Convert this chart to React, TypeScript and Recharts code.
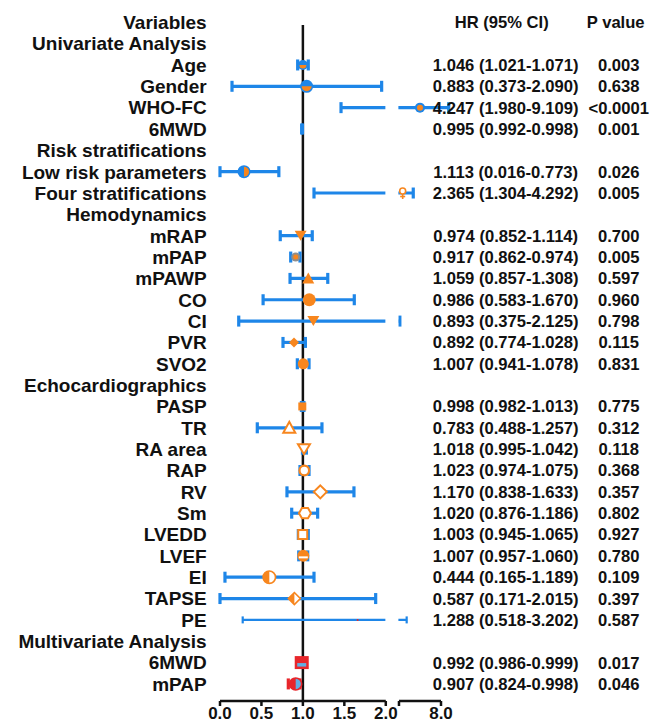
import {
  ScatterChart,
  Scatter,
  XAxis,
  YAxis,
  ErrorBar,
  ReferenceLine,
  ReferenceArea,
} from "recharts";

// one entry per row, top to bottom (headers included)
const variables = [
  "Variables", "Univariate Analysis", "Age", "Gender", "WHO-FC", "6MWD",
  "Risk stratifications", "Low risk parameters", "Four stratifications",
  "Hemodynamics", "mRAP", "mPAP", "mPAWP", "CO", "CI", "PVR", "SVO2",
  "Echocardiographics", "PASP", "TR", "RA area", "RAP", "RV", "Sm", "LVEDD",
  "LVEF", "EI", "TAPSE", "PE", "Multivariate Analysis", "6MWD", "mPAP",
];

const hrText = [
  "HR (95% CI)", "", "1.046 (1.021-1.071)", "0.883 (0.373-2.090)", "4.247 (1.980-9.109)",
  "0.995 (0.992-0.998)", "", "1.113 (0.016-0.773)", "2.365 (1.304-4.292)", "",
  "0.974 (0.852-1.114)", "0.917 (0.862-0.974)", "1.059 (0.857-1.308)", "0.986 (0.583-1.670)",
  "0.893 (0.375-2.125)", "0.892 (0.774-1.028)", "1.007 (0.941-1.078)", "",
  "0.998 (0.982-1.013)", "0.783 (0.488-1.257)", "1.018 (0.995-1.042)", "1.023 (0.974-1.075)",
  "1.170 (0.838-1.633)", "1.020 (0.876-1.186)", "1.003 (0.945-1.065)", "1.007 (0.957-1.060)",
  "0.444 (0.165-1.189)", "0.587 (0.171-2.015)", "1.288 (0.518-3.202)", "",
  "0.992 (0.986-0.999)", "0.907 (0.824-0.998)",
];

const pText = [
  "P value", "", "0.003", "0.638", "<0.0001", "0.001", "", "0.026", "0.005", "",
  "0.700", "0.005", "0.597", "0.960", "0.798", "0.115", "0.831", "",
  "0.775", "0.312", "0.118", "0.368", "0.357", "0.802", "0.927", "0.780",
  "0.109", "0.397", "0.587", "", "0.017", "0.046",
];

// plotted estimates (null = header row)
const hr = [
  null, null, 1.0, 1.045, 5.0, 0.99, null, 0.29, 2.53, null,
  0.973, 0.913, 1.065, 1.077, 1.126, 0.893, 1.005, null,
  0.993, 0.836, 1.013, 1.017, 1.21, 1.025, 0.998, 1.005,
  0.595, 0.897, 1.66, null, 0.986, 0.913,
];
const lo = [
  null, null, 0.937, 0.145, 1.46, 0.985, null, 0.0, 1.134, null,
  0.727, 0.853, 0.845, 0.52, 0.226, 0.76, 0.933, null,
  0.982, 0.45, 0.995, 0.965, 0.808, 0.865, 0.945, 0.95,
  0.06, 0.0, 0.274, null, 0.986, 0.824,
];
const hi = [
  null, null, 1.065, 1.95, 9.1, 0.995, null, 0.71, 4.04, null,
  1.113, 0.965, 1.3, 1.62, 2.125, 1.03, 1.074, null,
  1.013, 1.23, 1.042, 1.074, 1.616, 1.178, 1.065, 1.058,
  1.134, 1.878, 3.1, null, 0.999, 0.965,
];

const xTicks = [0, 0.5, 1, 1.5, 2, 8];
const multivariateRows = [30, 31];
const thinRows = [28];

// broken axis: 0-2 linear, then a short segment for 2-8
const SEG2_START = 2.159;
const SEG2_WIDTH = 0.507;
const toAxis = (v: number) => (v <= 2 ? v : SEG2_START + ((v - 2) / 6) * SEG2_WIDTH);
const AXIS_BOTTOM = 31.8;

const ORANGE = "#F7861E";
const BLUE = "#1E86E8";
const RED = "#E8262B";
const LIGHTBLUE = "#62AEE2";
const GREY = "#8E8E8E";
const FONT = "'Liberation Sans', Arial, Helvetica, sans-serif";

const rows = variables.map((_, i) => i);
const points = rows
  .filter((i) => hr[i] !== null)
  .map((i) => {
    const x = toAxis(hr[i] as number);
    return {
      row: i,
      x,
      err: [x - toAxis(lo[i] as number), toAxis(hi[i] as number) - x],
    };
  });
const mainPoints = points.filter((p) => !multivariateRows.includes(p.row) && !thinRows.includes(p.row));
const thinPoints = points.filter((p) => thinRows.includes(p.row));
const multiPoints = points.filter((p) => multivariateRows.includes(p.row));

const MARKER: Record<number, string> = {
  2: "halfBottomSmall", 3: "halfBottom", 4: "ring", 5: "none", 7: "halfRight", 8: "female",
  10: "triDown", 11: "greyDot", 12: "triUp", 13: "dot", 14: "triDown", 15: "diamond",
  16: "dotSmall", 18: "square", 19: "openTriUp", 20: "openTriDown", 21: "openCircle",
  22: "openDiamond", 23: "openHex", 24: "openSquare", 25: "bandCircle", 26: "halfLeftOpen",
  27: "halfDiamond", 28: "tiny", 30: "redSquare", 31: "redHalf",
};

function Marker(props: any) {
  const { cx, cy, payload } = props;
  if (cx == null || cy == null) return <g />;
  const kind = MARKER[payload.row];
  switch (kind) {
    case "halfBottomSmall":
    case "halfBottom": {
      const r = kind === "halfBottom" ? 6.5 : 5;
      return (
        <g>
          <circle cx={cx} cy={cy} r={r} fill={BLUE} />
          <path d={`M${cx - r + 1.5},${cy} A${r - 1.5},${r - 1.5} 0 0 0 ${cx + r - 1.5},${cy} Z`} fill={ORANGE} />
        </g>
      );
    }
    case "ring":
      return (
        <g>
          <circle cx={cx} cy={cy} r={5} fill={BLUE} />
          <circle cx={cx} cy={cy} r={3} fill={ORANGE} />
        </g>
      );
    case "halfRight":
      return (
        <g>
          <circle cx={cx} cy={cy} r={6.5} fill={BLUE} />
          <path d={`M${cx},${cy - 5} A5,5 0 0 1 ${cx},${cy + 5} Z`} fill={ORANGE} />
        </g>
      );
    case "female":
      return (
        <g stroke={ORANGE} strokeWidth={1.6} fill="#fff">
          <circle cx={cx} cy={cy - 2} r={3} />
          <line x1={cx} y1={cy + 1} x2={cx} y2={cy + 6} />
          <line x1={cx - 2.5} y1={cy + 3.5} x2={cx + 2.5} y2={cy + 3.5} />
        </g>
      );
    case "triDown":
      return <path d={`M${cx - 6},${cy - 5} L${cx + 6},${cy - 5} L${cx},${cy + 5} Z`} fill={ORANGE} />;
    case "triUp":
      return <path d={`M${cx - 6},${cy + 5} L${cx + 6},${cy + 5} L${cx},${cy - 6} Z`} fill={ORANGE} />;
    case "greyDot":
      return (
        <g>
          <circle cx={cx} cy={cy} r={4.5} fill={GREY} />
          <circle cx={cx} cy={cy} r={2.5} fill={ORANGE} />
        </g>
      );
    case "dot":
      return <circle cx={cx} cy={cy} r={6.5} fill={ORANGE} />;
    case "dotSmall":
      return <circle cx={cx} cy={cy} r={5.5} fill={ORANGE} />;
    case "diamond":
      return <path d={`M${cx},${cy - 5} L${cx + 5},${cy} L${cx},${cy + 5} L${cx - 5},${cy} Z`} fill={ORANGE} />;
    case "square":
      return <rect x={cx - 4} y={cy - 4} width={8} height={8} fill={ORANGE} />;
    case "openTriUp":
      return <path d={`M${cx - 6},${cy + 5} L${cx + 6},${cy + 5} L${cx},${cy - 6} Z`} fill="#fff" stroke={ORANGE} strokeWidth={2} />;
    case "openTriDown":
      return <path d={`M${cx - 6},${cy - 5} L${cx + 6},${cy - 5} L${cx},${cy + 5} Z`} fill="#fff" stroke={ORANGE} strokeWidth={2} />;
    case "openCircle":
      return <circle cx={cx} cy={cy} r={4.8} fill="#fff" stroke={ORANGE} strokeWidth={2.2} />;
    case "openDiamond":
      return <path d={`M${cx},${cy - 6.5} L${cx + 6.5},${cy} L${cx},${cy + 6.5} L${cx - 6.5},${cy} Z`} fill="#fff" stroke={ORANGE} strokeWidth={2} />;
    case "openHex": {
      const r = 6;
      const pts = [0, 1, 2, 3, 4, 5]
        .map((k) => `${cx + r * Math.cos((Math.PI / 3) * k)},${cy + r * Math.sin((Math.PI / 3) * k)}`)
        .join(" ");
      return <polygon points={pts} fill="#fff" stroke={ORANGE} strokeWidth={2} />;
    }
    case "openSquare":
      return <rect x={cx - 4.5} y={cy - 4.5} width={9} height={9} fill="#fff" stroke={ORANGE} strokeWidth={2} />;
    case "bandCircle":
      return (
        <g>
          <circle cx={cx} cy={cy} r={6} fill={ORANGE} />
          <rect x={cx - 4.5} y={cy + 0.5} width={9} height={2} fill="#fff" />
        </g>
      );
    case "halfLeftOpen":
      return (
        <g>
          <circle cx={cx} cy={cy} r={6.2} fill="#fff" stroke={ORANGE} strokeWidth={1.6} />
          <path d={`M${cx},${cy - 6.2} A6.2,6.2 0 0 0 ${cx},${cy + 6.2} Z`} fill={ORANGE} />
        </g>
      );
    case "halfDiamond":
      return (
        <g>
          <path d={`M${cx},${cy - 6} L${cx + 6},${cy} L${cx},${cy + 6} L${cx - 6},${cy} Z`} fill="#fff" stroke={ORANGE} strokeWidth={1.6} />
          <path d={`M${cx},${cy - 6} L${cx - 6},${cy} L${cx},${cy + 6} Z`} fill={ORANGE} />
        </g>
      );
    case "tiny":
      return <circle cx={cx} cy={cy} r={1} fill={RED} />;
    case "redSquare":
      return (
        <g>
          <rect x={cx - 7} y={cy - 6.5} width={14} height={13} fill={RED} />
          <rect x={cx - 4.5} y={cy + 0.5} width={9} height={3.5} fill={LIGHTBLUE} />
        </g>
      );
    case "redHalf":
      return (
        <g>
          <circle cx={cx} cy={cy} r={6} fill={LIGHTBLUE} stroke={RED} strokeWidth={1.6} />
          <path d={`M${cx},${cy - 6} A6,6 0 0 0 ${cx},${cy + 6} Z`} fill={RED} />
        </g>
      );
    default:
      return <g />;
  }
}

// row label on the left, HR and P value columns on the right
function RowTick(props: any) {
  const { x, y, payload } = props;
  const i = payload.value;
  const head = i === 0;
  return (
    <g fontWeight="bold" fontFamily={FONT} fill="#111">
      <text x={x} y={y} dy="0.36em" textAnchor="end" fontSize={19}>
        {variables[i]}
      </text>
      <text x={x + (head ? 295 : 299)} y={y} dy="0.36em" textAnchor="middle" fontSize={16.6}>
        {hrText[i]}
      </text>
      <text x={x + (head ? 409 : 412)} y={y} dy="0.36em" textAnchor="middle" fontSize={16.6}>
        {pText[i]}
      </text>
    </g>
  );
}

function BottomTick(props: any) {
  const { x, y, payload } = props;
  const idx = xTicks.findIndex((t) => Math.abs(toAxis(t) - payload.value) < 1e-6);
  if (idx < 0) return <g />;
  return (
    <text x={x} y={y} dy="0.71em" textAnchor="middle" fontSize={17} fontWeight="bold" fontFamily={FONT} fill="#111">
      {xTicks[idx].toFixed(1)}
    </text>
  );
}

export default function App() {
  const tickPositions = [...xTicks.map(toAxis), SEG2_START].sort((a, b) => a - b);
  // pinned to the window corner so body margins and scrollbars play no part
  return (
    <div style={{ position: "fixed", left: 0, top: 0, width: 650, height: 724, background: "#fff" }}>
      <ScatterChart width={650} height={724} margin={{ top: 11.6, right: 209, bottom: 0, left: 0 }}>
        <XAxis
          type="number"
          dataKey="x"
          domain={[-0.1, toAxis(8)]}
          allowDataOverflow
          ticks={tickPositions}
          interval={0}
          axisLine={false}
          tickSize={5}
          tickMargin={1}
          tickLine={{ stroke: "#111", strokeWidth: 2.5 }}
          tick={<BottomTick />}
          height={23}
        />
        <YAxis
          type="number"
          dataKey="row"
          domain={[-0.5, AXIS_BOTTOM]}
          reversed
          ticks={rows}
          interval={0}
          axisLine={false}
          tickLine={false}
          tickSize={0}
          tickMargin={5}
          width={211.7}
          tick={<RowTick />}
        />
        <ReferenceLine
          segment={[{ x: 1, y: 0.13 }, { x: 1, y: AXIS_BOTTOM }]}
          stroke="#111"
          strokeWidth={2.5}
        />
        <Scatter data={mainPoints} shape={<Marker />} isAnimationActive={false}>
          <ErrorBar dataKey="err" direction="x" width={5.5} stroke={BLUE} strokeWidth={3.2} isAnimationActive={false} />
        </Scatter>
        <Scatter data={thinPoints} shape={<Marker />} isAnimationActive={false}>
          <ErrorBar dataKey="err" direction="x" width={3.5} stroke={BLUE} strokeWidth={2.2} isAnimationActive={false} />
        </Scatter>
        <Scatter data={multiPoints} shape={<Marker />} isAnimationActive={false}>
          <ErrorBar dataKey="err" direction="x" width={5.5} stroke={RED} strokeWidth={3.2} isAnimationActive={false} />
        </Scatter>
        <ReferenceArea
          x1={1.995}
          x2={2.152}
          y1={-0.5}
          y2={AXIS_BOTTOM - 0.3}
          fill="#fff"
          fillOpacity={1}
          stroke="none"
          zIndex={700}
        />
        <ReferenceLine
          segment={[{ x: 0, y: AXIS_BOTTOM }, { x: 2, y: AXIS_BOTTOM }]}
          stroke="#111"
          strokeWidth={2.5}
          ifOverflow="visible"
        />
        <ReferenceLine
          segment={[{ x: SEG2_START, y: AXIS_BOTTOM }, { x: toAxis(8), y: AXIS_BOTTOM }]}
          stroke="#111"
          strokeWidth={2.5}
          ifOverflow="visible"
        />
      </ScatterChart>
    </div>
  );
}
